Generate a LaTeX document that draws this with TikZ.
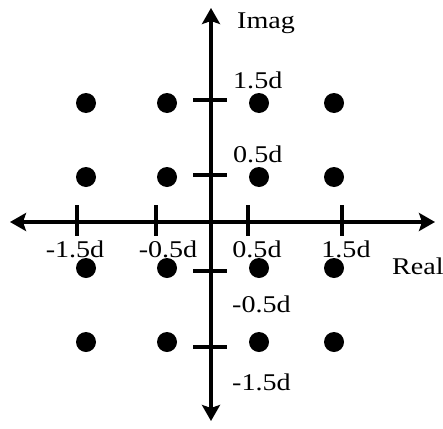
\documentclass[tikz,border=0pt]{standalone}
\usepackage{fontspec}
\setmainfont{Liberation Serif}[FakeStretch=1.17]
\usetikzlibrary{arrows.meta}
\begin{document}
\begin{tikzpicture}[x=1pt,y=-1pt,
  axis/.style={line width=4.5pt,{Stealth[length=16pt,width=18pt,inset=3pt]}-{Stealth[length=16pt,width=18pt,inset=3pt]}},
  tick/.style={line width=4.5pt},
  pt/.style={circle,fill=black,inner sep=0pt,minimum size=20pt},
  lab/.style={inner sep=0pt,font=\fontsize{24}{28}\selectfont}]
\useasboundingbox (0,0) rectangle (443,428);
% axes
\coordinate (xl) at (10,222);
\coordinate (xr) at (435,222);
\coordinate (yt) at (211,8);
\coordinate (yb) at (211,421);
\draw[axis] (xl) -- (xr);
\draw[axis] (yb) -- (yt);
% horizontal ticks
\foreach \n/\x in {a/77,b/156,c/248,d/342}{
  \coordinate (h\n1) at (\x,205);
  \coordinate (h\n2) at (\x,236);
  \draw[tick] (h\n1) -- (h\n2);
}
% vertical ticks
\foreach \n/\y in {a/100,b/175,c/271,d/347}{
  \coordinate (v\n1) at (193,\y);
  \coordinate (v\n2) at (227,\y);
  \draw[tick] (v\n1) -- (v\n2);
}
% constellation points
\foreach \i/\x in {1/86,2/167,3/259,4/334}{
  \foreach \j/\y in {1/103,2/177,3/268,4/342}{
    \node[pt] (p\i\j) at (\x,\y) {};
  }
}
% labels
\node[lab,anchor=base west] (imag) at (237,29) {Imag};
\node[lab,anchor=base west] (real) at (392,274) {Real};
\node[lab,anchor=base west] (v15) at (233,88) {1.5d};
\node[lab,anchor=base west] (v05) at (233,162) {0.5d};
\node[lab,anchor=base west] (vm05) at (232,312) {-0.5d};
\node[lab,anchor=base west] (vm15) at (232,390) {-1.5d};
\node[lab,anchor=base] (hm15) at (75,257) {-1.5d};
\node[lab,anchor=base] (hm05) at (168,257) {-0.5d};
\node[lab,anchor=base] (h05) at (257,257) {0.5d};
\node[lab,anchor=base] (h15) at (346,257) {1.5d};
\end{tikzpicture}
\end{document}
